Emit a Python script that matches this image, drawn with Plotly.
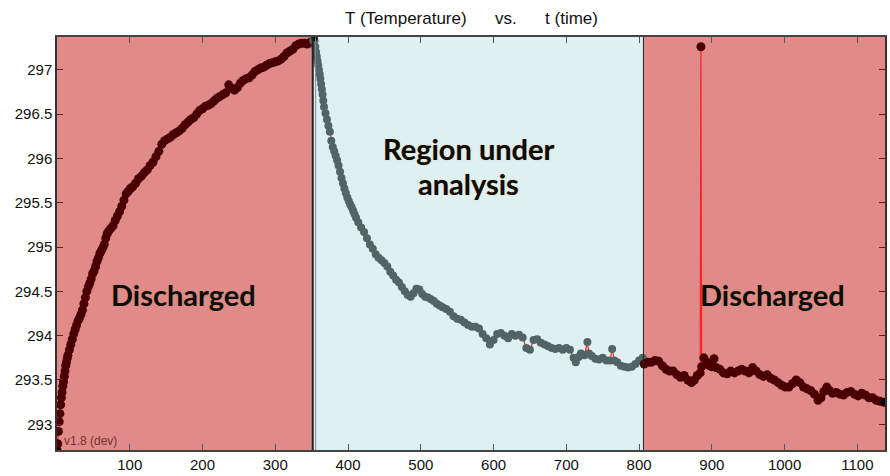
import plotly.graph_objects as go

# ---- data ----
t_dis1 = [0, 1, 2, 3, 4, 5, 6, 7, 8, 9, 10, 11, 12, 13, 14, 15, 17, 19, 21, 23, 25, 27, 29, 31, 33, 35, 37, 39, 41,
          43, 45, 47, 49, 51, 53, 55, 57, 59, 61, 63, 65, 67, 69, 71, 74, 77, 80, 83, 86, 89, 92, 95, 98, 101, 104,
          108, 112, 116, 120, 124, 128, 132, 136, 140, 144, 148, 152, 156, 160, 164, 168, 172, 176, 180, 184, 188,
          192, 196, 200, 204, 208, 212, 216, 220, 224, 228, 232, 236, 240, 244, 248, 252, 256, 260, 264, 268, 272,
          276, 280, 284, 288, 292, 296, 300, 304, 308, 312, 316, 320, 324, 328, 332, 336, 340, 344, 348, 352]
T_dis1 = [292.71, 292.78, 292.92, 293.03, 293.12, 293.22, 293.3, 293.36, 293.43, 293.48, 293.54, 293.6, 293.66,
          293.7, 293.74, 293.78, 293.84, 293.9, 293.96, 294.02, 294.07, 294.12, 294.17, 294.2, 294.24, 294.29,
          294.36, 294.43, 294.5, 294.55, 294.59, 294.64, 294.7, 294.73, 294.78, 294.84, 294.88, 294.93, 294.96,
          294.99, 295.03, 295.1, 295.15, 295.18, 295.21, 295.24, 295.3, 295.35, 295.4, 295.46, 295.53, 295.6,
          295.63, 295.66, 295.68, 295.72, 295.77, 295.8, 295.84, 295.87, 295.92, 295.96, 296.02, 296.08, 296.16,
          296.2, 296.22, 296.24, 296.27, 296.29, 296.31, 296.34, 296.38, 296.41, 296.44, 296.46, 296.5, 296.54,
          296.56, 296.59, 296.6, 296.62, 296.65, 296.68, 296.7, 296.72, 296.74, 296.83, 296.79, 296.77, 296.8,
          296.85, 296.88, 296.9, 296.91, 296.94, 296.98, 297.0, 297.02, 297.03, 297.05, 297.07, 297.08, 297.09,
          297.1, 297.12, 297.15, 297.19, 297.21, 297.23, 297.27, 297.29, 297.3, 297.3, 297.29, 297.31, 297.33]

t_reg = [353, 354, 355, 356, 357, 358, 359, 360, 361, 362, 363, 364, 365, 366, 367, 369, 371, 373, 375, 377, 379,
         381, 383, 385, 387, 389, 391, 393, 395, 397, 399, 401, 403, 405, 407, 409, 411, 414, 418, 422, 426, 430,
         434, 438, 442, 446, 450, 454, 458, 462, 466, 470, 474, 478, 482, 486, 490, 494, 498, 502, 506, 510, 514,
         518, 522, 526, 530, 535, 540, 545, 550, 555, 560, 565, 570, 575, 580, 585, 590, 595, 600, 605, 610, 615,
         620, 625, 630, 635, 640, 645, 650, 655, 660, 665, 670, 675, 680, 685, 690, 695, 700, 705, 710, 713, 717,
         720, 725, 729, 731, 735, 740, 745, 750, 755, 760, 763, 766, 770, 775, 780, 785, 790, 795, 800, 805]
T_reg = [297.36, 297.33, 297.26, 297.2, 297.15, 297.1, 297.05, 297.0, 296.95, 296.9, 296.84, 296.78, 296.72,
         296.65, 296.58, 296.51, 296.44, 296.37, 296.3, 296.2, 296.13, 296.08, 296.03, 295.98, 295.92, 295.85,
         295.78, 295.72, 295.66, 295.61, 295.56, 295.52, 295.48, 295.45, 295.41, 295.37, 295.33, 295.28, 295.22,
         295.17, 295.1, 295.03, 294.98, 294.92, 294.88, 294.85, 294.82, 294.78, 294.72, 294.68, 294.63, 294.6,
         294.55, 294.5, 294.46, 294.44, 294.48, 294.53, 294.52, 294.47, 294.44, 294.43, 294.41, 294.39, 294.36,
         294.34, 294.32, 294.3, 294.27, 294.22, 294.19, 294.18, 294.15, 294.12, 294.1, 294.1, 294.08, 294.02,
         293.97, 293.9, 293.95, 294.02, 294.03, 294.0, 293.97, 294.02, 294.0, 294.01, 293.98, 293.86, 293.84,
         293.95, 293.96, 293.92, 293.9, 293.88, 293.86, 293.85, 293.86, 293.84, 293.86, 293.84, 293.75, 293.7,
         293.76, 293.8, 293.78, 293.93, 293.8, 293.77, 293.74, 293.73, 293.75, 293.72, 293.72, 293.85, 293.72,
         293.7, 293.66, 293.65, 293.64, 293.65, 293.68, 293.72, 293.75]

t_dis2 = [807, 812, 817, 822, 827, 832, 837, 842, 847, 852, 857, 862, 867, 872, 876, 880, 884, 885, 886, 889, 893,
          897, 900, 903, 906, 911, 916, 921, 926, 931, 936, 941, 946, 951, 956, 961, 966, 971, 976, 981, 986, 991,
          996, 1001, 1006, 1011, 1016, 1021, 1026, 1031, 1036, 1041, 1046, 1050, 1054, 1058, 1062, 1066, 1071,
          1076, 1081, 1086, 1091, 1096, 1101, 1106, 1111, 1116, 1121, 1126, 1131, 1136]
T_dis2 = [293.68, 293.7, 293.7, 293.72, 293.71, 293.66, 293.62, 293.6, 293.6, 293.56, 293.53, 293.55, 293.5,
          293.47, 293.5, 293.55, 293.58, 297.26, 293.65, 293.75, 293.7, 293.66, 293.65, 293.74, 293.64, 293.62,
          293.58, 293.57, 293.6, 293.58, 293.6, 293.62, 293.6, 293.58, 293.64, 293.6, 293.56, 293.54, 293.56,
          293.52, 293.5, 293.47, 293.44, 293.42, 293.42, 293.46, 293.5, 293.47, 293.42, 293.4, 293.38, 293.34,
          293.27, 293.3, 293.37, 293.42, 293.38, 293.35, 293.36, 293.34, 293.33, 293.36, 293.37, 293.34, 293.32,
          293.35, 293.33, 293.3, 293.3, 293.27, 293.26, 293.25]

regions = [(0, 352, "#e08a8a"), (352, 806, "#dff0f1"), (806, 1138, "#e08a8a")]
x_ticks = [100, 200, 300, 400, 500, 600, 700, 800, 900, 1000, 1100]
y_ticks = [293, 293.5, 294, 294.5, 295, 295.5, 296, 296.5, 297]

fig = go.Figure()

for (x0, x1, col) in regions:
    fig.add_shape(type="rect", xref="x", yref="paper", x0=x0, x1=x1, y0=0, y1=1,
                  fillcolor=col, line_width=0, layer="below")
for xb in (351.5, 355.5, 806):
    fig.add_shape(type="line", xref="x", yref="paper", x0=xb, x1=xb, y0=0, y1=1,
                  line=dict(color="#222" if xb != 355.5 else "#7a8a8a", width=2 if xb == 351.5 else 1))

def series(tx, ty, mcol, size=8):
    return go.Scatter(x=tx, y=ty, mode="lines+markers",
                      line=dict(color="#ff2020", width=1.2),
                      marker=dict(color=mcol, size=size, symbol="circle"),
                      showlegend=False, hoverinfo="skip")

fig.add_trace(series(t_dis1, T_dis1, "#4a0000", 9))
fig.add_trace(series([t_dis1[-1]] + t_reg + [t_dis2[0]], [T_dis1[-1]] + T_reg + [T_dis2[0]], "#526464", 8))
fig.add_trace(series(t_dis2, T_dis2, "#4a0000", 9))
fig.add_trace(go.Scatter(x=[t_dis1[0], t_reg[1], t_dis2[-1]], y=[T_dis1[0], T_reg[0], T_dis2[-1]],
                         mode="markers", marker=dict(color="#000", size=6),
                         showlegend=False, hoverinfo="skip"))

lbl = dict(family="Lato, 'Open Sans', sans-serif", size=29, color="#0d0d0d",
           shadow="0px 0px 1px #c88a40")
fig.add_annotation(x=174, y=294.46, xref="x", yref="y", text="<b>Discharged</b>",
                   showarrow=False, font=lbl)
fig.add_annotation(x=983, y=294.46, xref="x", yref="y", text="<b>Discharged</b>",
                   showarrow=False, font=lbl)
fig.add_annotation(x=566, y=296.11, xref="x", yref="y", text="<b>Region under</b>",
                   showarrow=False, font=lbl)
fig.add_annotation(x=566, y=295.72, xref="x", yref="y", text="<b>analysis</b>",
                   showarrow=False, font=lbl)
fig.add_annotation(x=0.006, y=0.0, xref="paper", yref="paper", xanchor="left", yanchor="bottom",
                   text="v1.8 (dev)", showarrow=False,
                   font=dict(family="Arial, Liberation Sans, sans-serif", size=12, color="#7a3030"))

fig.update_layout(
    width=890, height=476,
    margin=dict(l=57, r=3, t=37, b=24),
    paper_bgcolor="white", plot_bgcolor="white",
    title=dict(text="T (Temperature)&nbsp;&nbsp;&nbsp;&nbsp;&nbsp;&nbsp;vs.&nbsp;&nbsp;&nbsp;&nbsp;&nbsp;&nbsp;t (time)",
               x=0.5298, xanchor="center", y=0.963, yanchor="middle",
               font=dict(family="Arial, Liberation Sans, sans-serif", size=17, color="#111")),
    font=dict(family="Arial, Liberation Sans, sans-serif", size=15, color="#111"),
)
fig.update_xaxes(range=[0, 1138], tickvals=x_ticks, ticks="inside", ticklen=6, tickcolor="#555",
                 showgrid=False, zeroline=False, showline=True, linecolor="#444", linewidth=1.5,
                 mirror="ticks")
fig.update_yaxes(range=[292.71, 297.37], tickvals=y_ticks, ticks="inside", ticklen=6, tickcolor="#6a1a1a",
                 showgrid=False, zeroline=False, showline=True, linecolor="#333", linewidth=1.5,
                 mirror="ticks")

fig.write_html("out.html", config={"displayModeBar": False},
               post_script="document.body.style.margin='0';document.body.style.overflow='hidden';")
